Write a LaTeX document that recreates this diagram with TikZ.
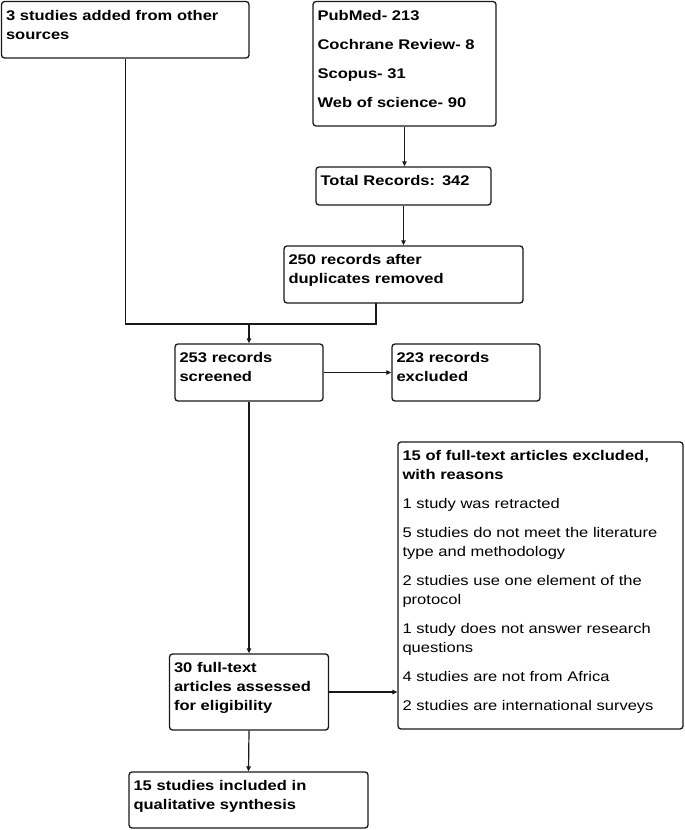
\documentclass[tikz,border=0pt]{standalone}
\usepackage{fontspec}
\setmainfont{Liberation Sans}[FakeStretch=1.18]
\usetikzlibrary{arrows.meta,fit}
\begin{document}
\begin{tikzpicture}[x=1pt,y=-1pt,
  box/.style={draw=black!90, line width=1.3pt, rounded corners=3pt, inner sep=0pt},
  txt/.style={anchor=base west, inner sep=0pt, text width=300pt, align=left, font=\fontsize{14}{19}\selectfont},
  btxt/.style={txt, font=\fontsize{14}{19}\selectfont\bfseries},
  conn/.style={line width=1.2pt, draw=black!90},
  arr/.style={conn, -{Triangle[length=5pt,width=4.5pt]}}]
\useasboundingbox (0,0) rectangle (685,830);
% boxes
\node[box, fit={(1.5,1.5) (249,58)}] (A) {};
\node[box, fit={(313,1.5) (496,126)}] (B) {};
\node[box, fit={(316,167) (491,205)}] (C) {};
\node[box, fit={(284,246) (523,303)}] (D) {};
\node[box, fit={(175,344) (323,401)}] (E) {};
\node[box, fit={(392,344) (540,401)}] (F) {};
\node[box, fit={(398,442) (683,729)}] (G) {};
\node[box, fit={(169.5,654) (328.5,730)}] (H) {};
\node[box, fit={(129,772) (368,828)}] (I) {};
% texts
\node[btxt] (tA) at ([shift={(5,19.5)}]A.north west) {3 studies added from other\\ sources};
\node[btxt] (tB) at ([shift={(5,19.5)}]B.north west) {PubMed- 213\\[10pt] Cochrane Review- 8\\[10pt] Scopus- 31\\[10pt] Web of science- 90};
\node[btxt] (tC) at ([shift={(5,19.5)}]C.north west) {Total Records: 342};
\node[btxt] (tD) at ([shift={(5,19.5)}]D.north west) {250 records after\\ duplicates removed};
\node[btxt] (tE) at ([shift={(5,19.5)}]E.north west) {253 records\\ screened};
\node[btxt] (tF) at ([shift={(5,19.5)}]F.north west) {223 records\\ excluded};
\node[txt] (tG) at ([shift={(5,19.5)}]G.north west) {\textbf{15 of full-text articles excluded,}\\ \textbf{with reasons}\\[10pt]
1 study was retracted\\[10pt]
5 studies do not meet the literature\\ type and methodology\\[10pt]
2 studies use one element of the\\ protocol\\[10pt]
1 study does not answer research\\ questions\\[10pt]
4 studies are not from Africa\\[10pt]
2 studies are international surveys};
\node[btxt] (tH) at ([shift={(5,19.5)}]H.north west) {30 full-text\\ articles assessed\\ for eligibility};
\node[btxt] (tI) at ([shift={(5,19.5)}]I.north west) {15 studies included in\\ qualitative synthesis};
% connectors
\draw[arr] (B.south) -- (B.south |- C.north);
\draw[arr] (C.south) -- (C.south |- D.north);
\coordinate (m) at (249,324);
\coordinate (dj) at (376,303);
\draw[conn] (A.south) |- (m);
\draw[conn] (dj) |- (m);
\draw[arr] (m) -- (E.north);
\draw[arr] (E.east) -- (F.west);
\draw[arr] (E.south) -- (H.north);
\draw[arr] (H.east) -- (H.east -| G.west);
\draw[arr] (H.south) -- (I.north);
\end{tikzpicture}
\end{document}
